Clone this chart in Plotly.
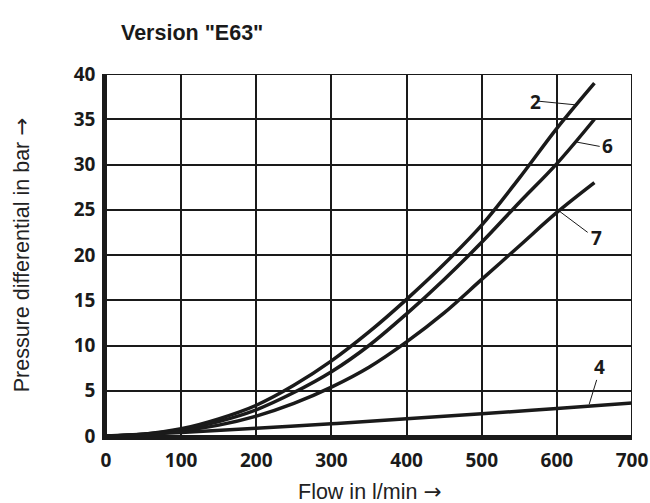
import plotly.graph_objects as go

flow = [0, 50, 100, 150, 200, 250, 300, 350, 400, 450, 500, 550, 600, 650]
curve_2 = [0, 0.2, 0.8, 1.9, 3.4, 5.6, 8.3, 11.5, 15.1, 19.0, 23.3, 28.5, 34.0, 39.0]
curve_6 = [0, 0.2, 0.7, 1.6, 2.9, 4.8, 7.1, 10.0, 13.5, 17.3, 21.4, 25.8, 30.1, 35.0]
curve_7 = [0, 0.15, 0.55, 1.2, 2.2, 3.6, 5.4, 7.6, 10.4, 13.6, 17.3, 21.0, 24.7, 28.0]
flow_4 = [0, 100, 200, 300, 400, 500, 600, 700]
curve_4 = [0, 0.4, 0.85, 1.35, 1.9, 2.45, 3.05, 3.65]

x_ticks = [0, 100, 200, 300, 400, 500, 600, 700]
y_ticks = [0, 5, 10, 15, 20, 25, 30, 35, 40]

# label text, label position, leader line start/end
labels = [
    ("2", 571, 36.9, 575, 37.0, 624, 36.6),
    ("6", 668, 32.0, 625, 32.5, 657, 32.0),
    ("7", 653, 21.9, 604, 24.8, 641, 22.5),
    ("4", 657, 7.6, 653, 6.2, 643, 3.5),
]

INK = "#1a1a1a"
TICK_FONT = dict(family="Open Sans, Liberation Sans, sans-serif", size=19, color=INK, weight="bold")
TEXT_FONT = dict(family="Liberation Sans, Arial, sans-serif", size=21.5, color="#222222")
ARROW = "<span style='font-family:DejaVu Sans'>→</span>"

fig = go.Figure()
for ys, xs in [(curve_2, flow), (curve_6, flow), (curve_7, flow), (curve_4, flow_4)]:
    fig.add_trace(go.Scatter(x=xs, y=ys, mode="lines", line=dict(color=INK, width=3.5, shape="spline"),
                             showlegend=False, hoverinfo="skip"))

shapes = [dict(type="rect", xref="x", yref="y", x0=0, x1=700, y0=0, y1=40,
               line=dict(color=INK, width=2), layer="above")]
annotations = []
for txt, lx, ly, x0, y0, x1, y1 in labels:
    shapes.append(dict(type="line", xref="x", yref="y", x0=x0, y0=y0, x1=x1, y1=y1,
                       line=dict(color=INK, width=1)))
    annotations.append(dict(x=lx, y=ly, xref="x", yref="y", text=txt, showarrow=False,
                            font=TICK_FONT))

annotations += [
    dict(x=0.025, y=1.113, xref="paper", yref="paper", xanchor="left", yanchor="middle",
         text='Version "E63"', showarrow=False,
         font=dict(family="Liberation Sans, Arial, sans-serif", size=21.5, color=INK, weight="bold")),
    dict(x=0.5, y=-0.152, xref="paper", yref="paper", text="Flow in l/min " + ARROW, showarrow=False,
         xanchor="center", yanchor="middle", font=TEXT_FONT),
    dict(x=-0.161, y=0.5, xref="paper", yref="paper", text="Pressure differential in bar " + ARROW,
         showarrow=False, textangle=-90, xanchor="center", yanchor="middle", font=TEXT_FONT),
]

fig.update_layout(
    width=650, height=503,
    margin=dict(l=106, r=18, t=74, b=67, autoexpand=False),
    paper_bgcolor="white", plot_bgcolor="white",
    shapes=shapes, annotations=annotations,
    xaxis=dict(range=[0, 700], tickvals=x_ticks, showgrid=True, gridcolor=INK, gridwidth=1.5,
               showline=True, linecolor=INK, linewidth=3.5, zeroline=False, ticks="",
               ticklabelstandoff=4, tickfont=TICK_FONT, fixedrange=True, automargin=False),
    yaxis=dict(range=[0, 40], tickvals=y_ticks, showgrid=True, gridcolor=INK, gridwidth=1.5,
               showline=True, linecolor=INK, linewidth=3.5, zeroline=False, ticks="",
               ticklabelstandoff=3, tickfont=TICK_FONT, fixedrange=True, automargin=False),
)

fig.write_html("out.html", config={"displayModeBar": False},
               post_script="document.body.style.margin='0';document.body.style.padding='0';")
